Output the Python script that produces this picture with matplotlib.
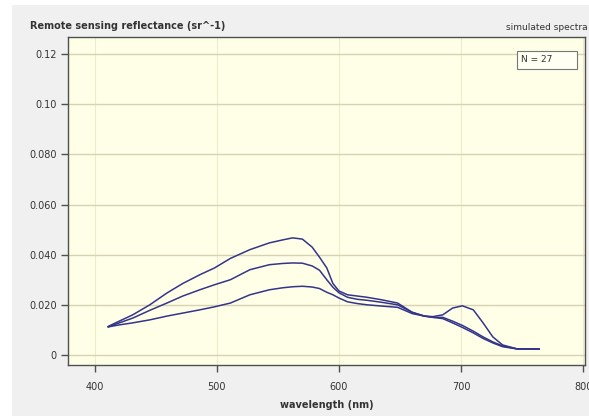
import matplotlib.pyplot as plt
from matplotlib.patches import Rectangle

# wavelengths (nm)
wl = [411, 420, 431, 445, 459, 472, 486, 498, 511, 527, 543, 554, 562, 570, 578, 584,
      590, 595, 600, 607, 615, 623, 635, 648, 660, 670, 677, 685, 693, 701, 710, 718,
      726, 734, 746, 764]

rrs_high = [0.0114, 0.0135, 0.0160, 0.0200, 0.0247, 0.0285, 0.0320, 0.0347, 0.0385, 0.0420,
            0.0447, 0.0459, 0.0467, 0.0462, 0.0430, 0.0390, 0.0347, 0.0285, 0.0255, 0.0240,
            0.0235, 0.0230, 0.0220, 0.0207, 0.0170, 0.0155, 0.0153, 0.0160, 0.0187, 0.0196,
            0.0180, 0.0128, 0.0072, 0.0040, 0.0024, 0.0024]

rrs_mid = [0.0112, 0.0128, 0.0147, 0.0178, 0.0207, 0.0235, 0.0260, 0.0280, 0.0300, 0.0340,
           0.0360, 0.0365, 0.0367, 0.0366, 0.0355, 0.0338, 0.0300, 0.0270, 0.0248, 0.0230,
           0.0222, 0.0218, 0.0210, 0.0200, 0.0170, 0.0155, 0.0150, 0.0150, 0.0135, 0.0118,
           0.0095, 0.0072, 0.0052, 0.0036, 0.0024, 0.0024]

rrs_low = [0.0112, 0.0120, 0.0128, 0.0140, 0.0155, 0.0167, 0.0180, 0.0192, 0.0207, 0.0240,
           0.0260, 0.0268, 0.0272, 0.0274, 0.0271, 0.0265, 0.0250, 0.0240, 0.0227, 0.0212,
           0.0205, 0.0200, 0.0195, 0.0190, 0.0165, 0.0155, 0.0150, 0.0145, 0.0128, 0.0110,
           0.0088, 0.0066, 0.0048, 0.0033, 0.0024, 0.0024]

yticks = [0, 0.02, 0.04, 0.06, 0.08, 0.10, 0.12]
ylabels = ['0', '0.020', '0.040', '0.060', '0.080', '0.10', '0.12']
xticks = [400, 500, 600, 700, 800]

fig = plt.figure(figsize=(5.89, 4.16), dpi=100, facecolor='white')
# grey panel behind everything
fig.patches.append(Rectangle((12 / 589, 0), 1, 1 - 5 / 416, transform=fig.transFigure,
                             facecolor='#f0f0f0', edgecolor='none', zorder=-10))

ax = fig.add_axes([68 / 589, 1 - 365 / 416, 517 / 589, 328 / 416])
ax.set_facecolor('#ffffe8')

for s in [rrs_high, rrs_mid, rrs_low]:
    ax.plot(wl, s, color='#34348a', linewidth=1.1)

ax.set_xlim(378, 801.5)
ax.set_ylim(-0.004, 0.1268)
ax.set_xticks(xticks)
ax.set_xticklabels([str(x) for x in xticks])
ax.set_yticks(yticks)
ax.set_yticklabels(ylabels)

ax.grid(axis='y', color='#d6d2b2', linewidth=1)
ax.grid(axis='x', color='#eeebcc', linewidth=0.8)
ax.set_axisbelow(True)

for sp in ax.spines.values():
    sp.set_color('#505050')
    sp.set_linewidth(1)

ax.tick_params(axis='both', direction='out', length=5, width=1, color='#505050',
               labelsize=7, labelcolor='#333333')
ax.tick_params(axis='x', pad=7)
ax.tick_params(axis='y', pad=3)

fig.text(30 / 589, 1 - 26 / 416, 'Remote sensing reflectance (sr^-1)', fontsize=7,
         fontweight='bold', color='#333333', va='center', ha='left')
fig.text(588 / 589, 1 - 28 / 416, 'simulated spectra', fontsize=6.5, color='#333333',
         va='center', ha='right')
ax.set_xlabel('wavelength (nm)', fontsize=7, fontweight='bold', color='#333333', labelpad=6)

box = Rectangle((517 / 589, 1 - 69 / 416), 60 / 589, 18 / 416, transform=fig.transFigure,
                facecolor='#fffff4', edgecolor='#777777', linewidth=0.8, zorder=10)
fig.patches.append(box)
fig.text(521 / 589, 1 - 60 / 416, 'N = 27', fontsize=6.5, color='#333333',
         va='center', ha='left', zorder=11)

fig.savefig('out.png', dpi=100, facecolor=fig.get_facecolor())
